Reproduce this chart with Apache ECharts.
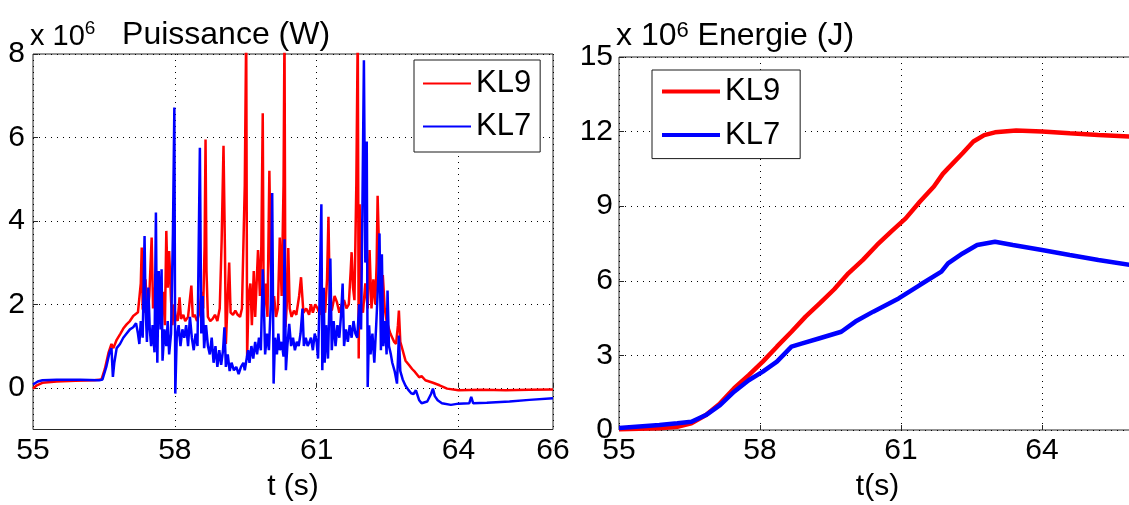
<!DOCTYPE html>
<html>
<head>
<meta charset="utf-8">
<script src="https://cdn.jsdelivr.net/npm/echarts@6/dist/echarts.min.js"></script>
<style>
html,body{margin:0;padding:0;background:#fff;}
#c{width:1129px;height:505px;}
</style>
</head>
<body>
<div id="c"></div>
<script>
// ---- Data (values in units of 1e6) ----
var seriesNames = ['KL9', 'KL7'];
var timeTicksLeft = [55, 58, 61, 64, 66];
var timeTicksRight = [55, 58, 61, 64];
var powerTicks = [0, 2, 4, 6, 8];
var energyTicks = [0, 3, 6, 9, 12, 15];

// Puissance (W) x 10^6, KL9
var powerKL9 = [
[55.00,-0.02],[55.08,0.06],[55.20,0.12],[55.50,0.15],[55.90,0.17],[56.30,0.18],[56.45,0.20],
[56.52,0.45],[56.60,0.85],[56.66,1.05],[56.70,0.95],[56.77,1.15],[56.85,1.30],[56.91,1.42],
[56.98,1.52],[57.05,1.60],[57.12,1.72],[57.22,1.81],[57.26,1.80],[57.28,2.5],[57.30,3.36],
[57.32,1.9],[57.35,1.8],[57.38,2.6],[57.42,1.7],[57.46,2.2],[57.51,3.6],[57.54,1.9],[57.58,2.4],
[57.60,1.6],[57.66,2.7],[57.70,1.9],[57.75,2.3],[57.79,1.5],[57.82,3.76],[57.85,2.4],[57.88,3.28],
[57.92,2.1],[57.95,1.5],[57.98,2.0],[58.02,1.7],[58.06,1.6],[58.10,2.17],[58.13,1.65],[58.18,1.75],
[58.22,1.6],[58.28,1.7],[58.35,2.45],[58.38,1.7],[58.42,1.75],[58.47,1.6],[58.52,1.8],[58.56,2.3],
[58.60,1.9],[58.63,3.4],[58.65,5.95],[58.67,2.8],[58.70,1.7],[58.75,1.6],[58.80,1.65],[58.85,1.75],
[58.90,1.6],[58.95,1.9],[58.99,3.5],[59.03,5.8],[59.06,3.35],[59.08,1.05],[59.11,1.9],[59.15,3.0],
[59.18,1.8],[59.23,1.75],[59.28,1.85],[59.33,1.75],[59.38,1.7],[59.42,1.9],[59.48,4.86],[59.51,8.6],
[59.53,0.73],[59.56,2.2],[59.60,2.5],[59.63,1.5],[59.67,2.8],[59.70,1.7],[59.73,2.5],[59.76,3.3],
[59.80,2.2],[59.83,3.4],[59.86,6.58],[59.88,1.8],[59.92,2.5],[59.96,1.7],[60.00,5.2],[60.03,3.0],
[60.06,1.9],[60.10,2.2],[60.14,1.7],[60.18,1.9],[60.22,3.6],[60.26,2.2],[60.30,4.87],[60.32,8.6],
[60.34,1.45],[60.38,2.2],[60.40,3.35],[60.43,1.9],[60.47,1.7],[60.52,1.85],[60.57,1.75],[60.63,2.2],
[60.67,2.65],[60.72,1.8],[60.78,1.9],[60.84,1.75],[60.88,2.0],[60.92,1.8],[60.97,2.0],[61.02,1.9],
[61.07,1.75],[61.12,2.2],[61.18,1.8],[61.22,2.6],[61.25,4.1],[61.28,2.0],[61.32,1.85],[61.38,2.2],
[61.43,2.05],[61.48,1.8],[61.53,2.0],[61.58,2.1],[61.63,1.9],[61.68,2.0],[61.72,2.8],[61.74,3.25],
[61.77,2.4],[61.80,2.1],[61.84,4.9],[61.87,8.6],[61.89,0.7],[61.91,4.4],[61.94,2.0],[61.98,1.8],
[62.03,2.5],[62.08,1.9],[62.12,3.3],[62.16,1.9],[62.20,2.6],[62.24,2.0],[62.27,3.0],[62.29,4.6],
[62.32,3.3],[62.36,2.2],[62.40,2.7],[62.44,1.9],[62.48,1.6],[62.52,1.45],[62.56,1.3],[62.60,1.2],
[62.64,1.1],[62.68,1.05],[62.72,1.5],[62.74,1.85],[62.77,1.1],[62.82,0.9],[62.88,0.65],[62.95,0.55],
[63.02,0.45],[63.08,0.38],[63.17,0.25],[63.22,0.28],[63.30,0.18],[63.46,0.12],[63.60,0.06],
[63.76,-0.02],[64.00,-0.06],[64.50,-0.05],[65.00,-0.06],[65.50,-0.05],[66.00,-0.04]
];

// Puissance (W) x 10^6, KL7
var powerKL7 = [
[55.00,0.08],[55.10,0.15],[55.20,0.18],[55.50,0.19],[56.00,0.19],[56.40,0.18],[56.47,0.20],
[56.55,0.5],[56.62,0.85],[56.66,0.95],[56.69,0.26],[56.72,0.6],[56.77,0.95],[56.84,1.05],[56.91,1.2],
[56.98,1.3],[57.05,1.4],[57.12,1.45],[57.18,1.55],[57.22,1.3],[57.25,1.05],[57.28,1.6],[57.32,1.2],
[57.36,3.64],[57.38,2.0],[57.41,1.1],[57.44,2.4],[57.47,1.4],[57.50,1.0],[57.53,1.5],[57.57,0.85],
[57.60,4.2],[57.62,1.3],[57.63,0.6],[57.66,2.8],[57.70,1.4],[57.72,2.84],[57.74,0.65],[57.78,1.4],
[57.82,1.0],[57.85,1.6],[57.88,0.8],[57.92,1.3],[57.96,3.7],[57.99,6.72],[58.01,-0.14],[58.04,1.2],
[58.08,1.5],[58.12,1.0],[58.16,1.4],[58.20,1.2],[58.24,1.5],[58.28,1.0],[58.32,1.7],[58.36,1.2],
[58.40,0.9],[58.44,1.3],[58.48,1.0],[58.53,5.75],[58.56,1.3],[58.59,2.2],[58.62,0.95],[58.66,1.5],
[58.70,1.0],[58.74,0.8],[58.78,1.2],[58.82,0.6],[58.86,1.0],[58.90,0.5],[58.94,0.9],[58.98,0.55],
[59.02,0.9],[59.05,1.45],[59.08,0.5],[59.12,0.8],[59.16,0.4],[59.20,0.6],[59.25,0.42],[59.30,0.5],
[59.35,0.33],[59.40,0.5],[59.45,0.6],[59.48,0.42],[59.52,0.7],[59.55,0.9],[59.58,0.6],[59.62,1.0],
[59.66,0.7],[59.70,1.1],[59.74,0.8],[59.78,1.2],[59.82,0.9],[59.86,2.84],[59.88,2.17],[59.91,0.8],
[59.95,1.3],[59.99,0.9],[60.03,2.0],[60.06,4.67],[60.09,0.1],[60.12,1.2],[60.16,0.8],[60.19,1.3],
[60.22,0.9],[60.26,1.1],[60.30,0.75],[60.32,3.56],[60.35,0.42],[60.38,1.0],[60.42,1.53],[60.46,1.0],
[60.50,1.2],[60.54,0.9],[60.58,1.1],[60.62,1.0],[60.66,1.3],[60.70,1.9],[60.73,1.0],[60.77,1.2],
[60.81,1.0],[60.85,1.1],[60.88,1.2],[60.92,0.9],[60.96,1.3],[61.00,1.1],[61.03,0.7],[61.06,2.0],
[61.10,4.4],[61.12,0.42],[61.15,2.4],[61.17,0.6],[61.20,1.5],[61.24,0.7],[61.27,2.0],[61.29,3.1],
[61.32,0.9],[61.36,1.6],[61.40,1.0],[61.44,1.5],[61.48,1.2],[61.52,1.8],[61.55,2.5],[61.58,1.0],
[61.62,1.4],[61.66,1.1],[61.70,1.5],[61.74,1.2],[61.78,1.6],[61.82,1.3],[61.86,1.2],[61.90,2.0],
[61.94,1.4],[61.97,4.5],[62.00,7.85],[62.03,3.0],[62.06,5.9],[62.08,0.02],[62.11,1.5],[62.14,0.8],
[62.18,1.3],[62.22,0.6],[62.26,1.5],[62.30,2.5],[62.33,3.7],[62.36,0.9],[62.38,3.2],[62.41,1.0],
[62.45,1.6],[62.48,0.8],[62.50,2.33],[62.53,1.0],[62.57,0.8],[62.60,0.6],[62.65,0.4],[62.70,0.1],
[62.74,1.25],[62.77,0.4],[62.82,0.2],[62.88,0.05],[62.94,-0.05],[63.00,-0.13],[63.05,-0.15],
[63.10,-0.06],[63.17,-0.3],[63.22,-0.37],[63.34,-0.33],[63.42,-0.15],[63.46,-0.02],[63.50,-0.2],
[63.56,-0.3],[63.65,-0.37],[63.84,-0.41],[64.00,-0.38],[64.23,-0.37],[64.27,-0.22],[64.31,-0.37],
[64.60,-0.36],[65.08,-0.33],[65.50,-0.29],[66.00,-0.25]
];

// Energie (J) x 10^6, KL9
var energyKL9 = [
[55.00,0.03],[55.86,0.07],[56.24,0.13],[56.54,0.27],[56.85,0.60],[57.15,1.07],[57.45,1.68],
[57.76,2.21],[58.06,2.75],[58.36,3.35],[58.67,3.95],[58.97,4.56],[59.27,5.09],[59.58,5.66],
[59.88,6.30],[60.19,6.84],[60.49,7.44],[60.79,7.98],[61.10,8.51],[61.40,9.18],[61.70,9.79],
[61.89,10.30],[62.00,10.52],[62.31,11.13],[62.54,11.60],[62.77,11.86],[63.00,11.97],[63.45,12.04],
[64.00,12.00],[64.59,11.93],[65.20,11.86],[65.87,11.80],[66.00,11.78]
];

// Energie (J) x 10^6, KL7
var energyKL7 = [
[55.00,0.08],[55.86,0.20],[56.24,0.27],[56.54,0.33],[56.85,0.60],[57.15,1.00],[57.45,1.54],
[57.76,2.00],[58.06,2.35],[58.36,2.75],[58.67,3.35],[58.90,3.48],[59.27,3.69],[59.73,3.95],
[60.03,4.36],[60.41,4.76],[60.95,5.29],[61.40,5.83],[61.86,6.37],[62.00,6.70],[62.31,7.10],
[62.62,7.44],[63.00,7.57],[63.38,7.44],[64.00,7.24],[64.59,7.04],[65.20,6.84],[65.87,6.64],
[66.00,6.60]
];

var FONT = '"Liberation Sans", Arial, Helvetica, sans-serif';
var RED = '#ff0000', BLUE = '#0000ff';

function xAxisCfg(idx, ticks) {
  return {
    type: 'value', gridIndex: idx, min: 55, max: 66,
    name: idx === 0 ? 't (s)' : 't(s)', nameLocation: 'middle', nameGap: 42,
    nameTextStyle: { fontSize: 30, fontFamily: FONT, color: '#000' },
    axisLine: { show: false },
    axisTick: { show: true, inside: true, length: 5, customValues: ticks, lineStyle: { color: '#262626' } },
    axisLabel: { customValues: ticks, fontSize: 30, fontFamily: FONT, color: '#000', margin: 6 },
    splitLine: { show: true, lineStyle: { type: [1, 5], color: '#000', width: 1 } }
  };
}
function yAxisCfg(idx, mn, mx, ticks, margin) {
  return {
    type: 'value', gridIndex: idx, min: mn, max: mx,
    axisLine: { show: false },
    axisTick: { show: true, inside: true, length: 5, customValues: ticks, lineStyle: { color: '#262626' } },
    axisLabel: { customValues: ticks, fontSize: 30, fontFamily: FONT, color: '#000', margin: margin },
    splitLine: { show: true, lineStyle: { type: [1, 5], color: '#000', width: 1 } }
  };
}
function legendCfg(left, top, w, h, gap, pad) {
  return {
    data: seriesNames, orient: 'vertical', left: left, top: top,
    icon: 'rect', itemWidth: w, itemHeight: h, itemGap: gap, padding: pad,
    backgroundColor: '#fff', borderColor: '#1a1a1a', borderWidth: 1,
    selectedMode: false, z: 10,
    textStyle: { fontSize: 31, fontFamily: FONT, color: '#000', lineHeight: 30 }
  };
}
function titleRich(mainSize, supSize, supBox, nameSize) {
  return {
    a: { fontSize: mainSize, fontFamily: FONT, fontWeight: 'normal', color: '#000', lineHeight: mainSize, verticalAlign: 'bottom' },
    s: { fontSize: supSize, fontFamily: FONT, fontWeight: 'normal', color: '#000', verticalAlign: 'top', lineHeight: supBox },
    b: { fontSize: nameSize, fontFamily: FONT, fontWeight: 'normal', color: '#000', lineHeight: nameSize, verticalAlign: 'bottom' }
  };
}

var chart = echarts.init(document.getElementById('c'), null, { renderer: 'canvas' });
chart.setOption({
  animation: false,
  backgroundColor: '#fff',
  title: [
    { text: '{a|x 10}{s|6}{b|   Puissance (W)}', left: 30, top: 19, padding: 0,
      textStyle: { fontWeight: 'normal', rich: titleRich(29, 19, 8, 32) } },
    { text: '{a|x 10}{s|6}{b| Energie (J)}', left: 616, top: 20, padding: 0,
      textStyle: { fontWeight: 'normal', rich: titleRich(32, 22, 10, 32) } }
  ],
  legend: [
    legendCfg(414, 60, 48, 2, 12, [8, 9, 10, 9]),
    legendCfg(652, 70, 58, 4, 12.6, [6, 20, 8, 10])
  ],
  grid: [
    { left: 33, top: 54, width: 520, height: 375.5, show: true, borderColor: '#262626', borderWidth: 1,
      backgroundColor: 'transparent', outerBoundsMode: 'none' },
    { left: 619, top: 57, width: 517, height: 373, show: true, borderColor: '#262626', borderWidth: 1,
      backgroundColor: 'transparent', outerBoundsMode: 'none' }
  ],
  xAxis: [ xAxisCfg(0, timeTicksLeft), xAxisCfg(1, timeTicksRight) ],
  yAxis: [ yAxisCfg(0, -1, 8, powerTicks, 8), yAxisCfg(1, 0, 15, energyTicks, 6) ],
  series: [
    { name: 'KL9', type: 'line', xAxisIndex: 0, yAxisIndex: 0, data: powerKL9, showSymbol: false, symbol: 'none',
      color: RED, lineStyle: { color: RED, width: 2.5 }, clip: true },
    { name: 'KL7', type: 'line', xAxisIndex: 0, yAxisIndex: 0, data: powerKL7, showSymbol: false, symbol: 'none',
      color: BLUE, lineStyle: { color: BLUE, width: 2.5 }, clip: true },
    { name: 'KL9', type: 'line', xAxisIndex: 1, yAxisIndex: 1, data: energyKL9, showSymbol: false, symbol: 'none',
      color: RED, lineStyle: { color: RED, width: 4.5 }, clip: true },
    { name: 'KL7', type: 'line', xAxisIndex: 1, yAxisIndex: 1, data: energyKL7, showSymbol: false, symbol: 'none',
      color: BLUE, lineStyle: { color: BLUE, width: 4.5 }, clip: true }
  ]
});
</script>
</body>
</html>
